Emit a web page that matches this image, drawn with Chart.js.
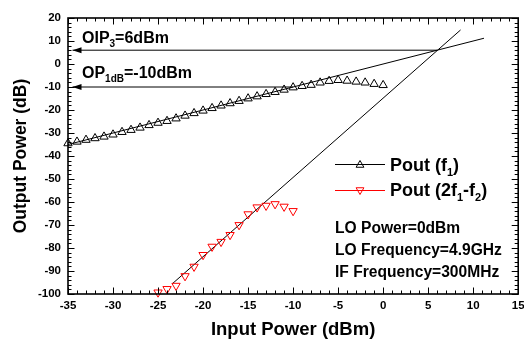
<!DOCTYPE html>
<html><head><meta charset="utf-8">
<script src="https://cdn.jsdelivr.net/npm/chart.js@4.4.1/dist/chart.umd.min.js"></script>
<style>html,body{margin:0;padding:0;background:#fff;overflow:hidden}#wrap{width:524px;height:347px;position:relative}</style>
</head><body><div id="wrap"><canvas id="c"></canvas></div>
<script>
// ---- data ----
const pinF1 = [-35,-34,-33,-32,-31,-30,-29,-28,-27,-26,-25,-24,-23,-22,-21,-20,-19,-18,-17,-16,-15,-14,-13,-12,-11,-10,-9,-8,-7,-6,-5,-4,-3,-2,-1,0];
const poutF1 = [-34.5,-33.8,-33.0,-32.3,-31.6,-30.7,-29.6,-28.7,-27.7,-26.6,-25.6,-24.8,-23.7,-22.5,-21.4,-20.3,-19.2,-18.1,-17.1,-16.1,-15.0,-14.1,-13.1,-12.2,-11.2,-10.2,-9.6,-9.1,-8.1,-7.4,-7.0,-7.3,-7.7,-8.1,-8.7,-9.2];
const pinIM3 = [-25,-24,-23,-22,-21,-20,-19,-18,-17,-16,-15,-14,-13,-12,-11,-10];
const poutIM3 = [-99.3,-97.8,-96.4,-92.2,-88.1,-83.0,-79.4,-77.3,-74.3,-70.0,-65.3,-62.3,-61.6,-60.9,-62.0,-63.9];
const fitF1X = [-35, 11.2];
const fitF1Y = [-35, 11.2];
const fitIM3X = [-23.4, 8.6];
const fitIM3Y = [-95.5, 14.8];
const oip3X = [-34.5, 6];
const oip3Y = [6, 6];
const op1dbX = [-34.5, -10];
const op1dbY = [-10, -10];
const xTickValues = [-35,-30,-25,-20,-15,-10,-5,0,5,10,15];
const yTickValues = [-100,-90,-80,-70,-60,-50,-40,-30,-20,-10,0,10,20];
const xMinorStep = 1;
const yMinorStep = 2;

const FONT = "'Liberation Sans', Arial, sans-serif";
const pts = (xs, ys) => xs.map((v, i) => ({x: v, y: ys[i]}));

function rich(ctx, x, y, parts, size) {
  let cx = x;
  for (const p of parts) {
    const sub = !!p[1];
    const s = sub ? Math.round(size * 0.62) : size;
    ctx.font = 'bold ' + s + 'px ' + FONT;
    ctx.fillText(p[0], cx, sub ? y + size * 0.27 : y);
    cx += ctx.measureText(p[0]).width;
  }
}
function tri(ctx, x, y, r, down, color) {
  ctx.save();
  ctx.translate(x, y);
  if (down) ctx.rotate(Math.PI);
  ctx.beginPath();
  for (let k = 0; k < 3; k++) {
    const a = k * 2 * Math.PI / 3;
    const px = Math.sin(a) * r, py = -Math.cos(a) * r;
    if (k === 0) ctx.moveTo(px, py); else ctx.lineTo(px, py);
  }
  ctx.closePath();
  ctx.strokeStyle = color; ctx.lineWidth = 1; ctx.stroke();
  ctx.restore();
}

const frameTicks = {
  id: 'frameTicks',
  afterDatasetsDraw(chart) {
    const {ctx, chartArea: a, scales: {x, y}} = chart;
    ctx.save();
    ctx.strokeStyle = '#000'; ctx.lineWidth = 1;
    ctx.beginPath();
    for (let v = x.min; v <= x.max + 1e-9; v += xMinorStep) {
      const px = Math.round(x.getPixelForValue(v)) + 0.5;
      const L = xTickValues.includes(v) ? 6.5 : 3.5;
      ctx.moveTo(px, a.bottom); ctx.lineTo(px, a.bottom - L);
      ctx.moveTo(px, a.top); ctx.lineTo(px, a.top + L);
    }
    for (let v = y.min; v <= y.max + 1e-9; v += yMinorStep) {
      const py = Math.round(y.getPixelForValue(v)) + 0.5;
      const L = yTickValues.includes(v) ? 6.5 : 3.5;
      ctx.moveTo(a.left, py); ctx.lineTo(a.left + L, py);
      ctx.moveTo(a.right, py); ctx.lineTo(a.right - L, py);
    }
    ctx.stroke();
    ctx.lineWidth = 1.6;
    ctx.strokeRect(a.left, a.top, a.right - a.left, a.bottom - a.top);
    chart.data.datasets.forEach((ds, i) => {
      if (!ds.arrowHead) return;
      const el = chart.getDatasetMeta(i).data[0];
      ctx.beginPath();
      ctx.moveTo(el.x, el.y);
      ctx.lineTo(el.x + 9, el.y - 3);
      ctx.lineTo(el.x + 9, el.y + 3);
      ctx.closePath();
      ctx.fillStyle = '#000'; ctx.fill();
    });
    ctx.restore();
  }
};

const notes = {
  id: 'notes',
  afterDraw(chart) {
    const ctx = chart.ctx;
    ctx.save();
    ctx.fillStyle = '#000'; ctx.textBaseline = 'alphabetic'; ctx.textAlign = 'left';
    rich(ctx, 82, 43, [['OIP'], ['3', 1], ['=6dBm']], 16);
    rich(ctx, 82, 78, [['OP'], ['1dB', 1], ['=-10dBm']], 16);
    ctx.strokeStyle = '#000'; ctx.lineWidth = 1;
    ctx.beginPath(); ctx.moveTo(335, 164.5); ctx.lineTo(385, 164.5); ctx.stroke();
    tri(ctx, 360, 165, 4.5, false, '#000');
    ctx.strokeStyle = '#ff0000';
    ctx.beginPath(); ctx.moveTo(335, 190.5); ctx.lineTo(385, 190.5); ctx.stroke();
    tri(ctx, 360, 190, 4.5, true, '#ff0000');
    ctx.fillStyle = '#000';
    rich(ctx, 390, 171, [['Pout (f'], ['1', 1], [')']], 18);
    rich(ctx, 390, 196, [['Pout (2f'], ['1', 1], ['-f'], ['2', 1], [')']], 18);
    ctx.font = 'bold 15.6px ' + FONT;
    ctx.fillText('LO Power=0dBm', 335, 233);
    ctx.fillText('LO Frequency=4.9GHz', 335, 255);
    ctx.fillText('IF Frequency=300MHz', 335, 277);
    ctx.restore();
  }
};

const lineDs = (xs, ys, extra) => Object.assign({
  data: pts(xs, ys), showLine: true, borderColor: '#000', borderWidth: 1,
  pointRadius: 0, pointHoverRadius: 0, fill: false, tension: 0
}, extra || {});

new Chart(document.getElementById('c'), {
  type: 'scatter',
  data: {
    datasets: [
      { label: 'Pout (f1)', data: pts(pinF1, poutF1), showLine: false, pointStyle: 'triangle',
        pointRadius: 4.8, pointBorderColor: '#000', pointBackgroundColor: 'rgba(0,0,0,0)', pointBorderWidth: 1, clip: false },
      { label: 'Pout (2f1-f2)', data: pts(pinIM3, poutIM3), showLine: false, pointStyle: 'triangle', rotation: 180,
        pointRadius: 4.8, pointBorderColor: '#ff0000', pointBackgroundColor: 'rgba(0,0,0,0)', pointBorderWidth: 1, clip: false },
      lineDs(fitF1X, fitF1Y),
      lineDs(fitIM3X, fitIM3Y),
      lineDs(oip3X, oip3Y, {arrowHead: true}),
      lineDs(op1dbX, op1dbY, {arrowHead: true})
    ]
  },
  options: {
    responsive: true, maintainAspectRatio: false, animation: false, devicePixelRatio: 1,
    layout: {padding: {top: 18, right: 5, left: 0, bottom: 0}},
    plugins: {legend: {display: false}, tooltip: {enabled: false}},
    scales: {
      x: {
        type: 'linear', min: -35, max: 15,
        afterBuildTicks: s => { s.ticks = xTickValues.map(v => ({value: v})); },
        afterFit: s => { s.height = 53; s.paddingRight = 0; s.paddingLeft = 0; },
        grid: {display: false, drawTicks: false},
        border: {display: false},
        ticks: {color: '#000', padding: 5, font: {family: FONT, size: 11.5, weight: 'bold'}, maxRotation: 0, autoSkip: false},
        title: {display: true, text: 'Input Power (dBm)', color: '#000', padding: {top: 0, bottom: 6},
                font: {family: FONT, size: 18.5, weight: 'bold'}}
      },
      y: {
        type: 'linear', min: -100, max: 20,
        afterBuildTicks: s => { s.ticks = yTickValues.map(v => ({value: v})); },
        afterFit: s => { s.width = 68; },
        grid: {display: false, drawTicks: false},
        border: {display: false},
        ticks: {color: '#000', padding: 7, font: {family: FONT, size: 11.5, weight: 'bold'}, autoSkip: false},
        title: {display: true, text: 'Output Power (dB)', color: '#000', padding: {top: 11, bottom: 0},
                font: {family: FONT, size: 17.5, weight: 'bold'}}
      }
    }
  },
  plugins: [frameTicks, notes]
});
</script>
</body></html>
